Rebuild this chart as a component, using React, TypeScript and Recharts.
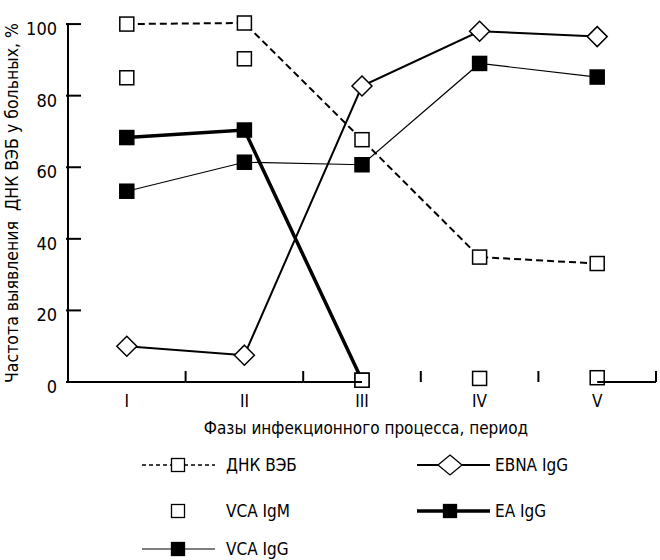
import { LineChart, Line, XAxis, YAxis } from "recharts";

const phases = ["I", "II", "III", "IV", "V"];
const dnaEbv = [100, 100.3, 67.7, 34.9, 33.1];
const vcaIgM = [85, 90.3, 0.5, 1, 1.2];
const vcaIgG = [53.3, 61.4, 60.7, 89, 85.2];
const ebnaIgG = [10, 7.5, 82.7, 98, 96.5];
const eaIgG = [68.3, 70.4, 0.5, null, null];
const yTicks = [0, 20, 40, 60, 80, 100];

const rows = phases.map((p, i) => ({
  phase: p,
  dna: dnaEbv[i],
  igm: vcaIgM[i],
  vca: vcaIgG[i],
  ebna: ebnaIgG[i],
  ea: eaIgG[i],
}));

const FONT = '"Liberation Sans Narrow", "DejaVu Sans Condensed", "Liberation Sans", sans-serif';
const PLOT_L = 68;
const PLOT_R = 656;
const BAND = (PLOT_R - PLOT_L) / phases.length;

type Marker = "open" | "filled" | "diamond";

const series: { key: string; name: string; width: number; dash?: string; marker: Marker; line: boolean }[] = [
  { key: "vca", name: "VCA IgG", width: 1.2, marker: "filled", line: true },
  { key: "ea", name: "EA IgG", width: 3.5, marker: "filled", line: true },
  { key: "ebna", name: "EBNA IgG", width: 2, marker: "diamond", line: true },
  { key: "dna", name: "ДНК ВЭБ", width: 2, dash: "7 4", marker: "open", line: true },
  { key: "igm", name: "VCA IgM", width: 0, marker: "open", line: false },
];

function markerShape(kind: Marker, cx: number, cy: number, key?: string) {
  if (kind === "diamond") {
    const r = 10;
    return (
      <path
        key={key}
        d={`M${cx},${cy - r}L${cx + r},${cy}L${cx},${cy + r}L${cx - r},${cy}Z`}
        fill="#fff"
        stroke="#000"
        strokeWidth={1.5}
      />
    );
  }
  const s = 14;
  return (
    <rect
      key={key}
      x={cx - s / 2}
      y={cy - s / 2}
      width={s}
      height={s}
      fill={kind === "filled" ? "#000" : "#fff"}
      stroke="#000"
      strokeWidth={1.5}
    />
  );
}

const makeDot = (kind: Marker) => (props: any) => {
  const { cx, cy, key, value } = props;
  if (cx == null || cy == null || value == null) return <g key={key} />;
  return markerShape(kind, cx, cy, key);
};

function PhaseTick(props: any) {
  const { x, y, payload, index } = props;
  const i = payload?.index ?? index;
  // the scanned axis line has a gap between III and V
  const segs: [number, number][] =
    i === 0 || i === 1
      ? [[x - BAND / 2, x + BAND / 2]]
      : i === 2
      ? [[x - BAND / 2, x]]
      : i === 4
      ? [[x, x + BAND / 2]]
      : [];
  return (
    <g>
      {segs.map(([a, b], k) => (
        <line key={k} x1={a} x2={b} y1={y} y2={y} stroke="#000" strokeWidth={2} />
      ))}
      <line x1={x + BAND / 2} x2={x + BAND / 2} y1={y} y2={y - 11} stroke="#000" strokeWidth={2} />
      <text x={x} y={y + 25} textAnchor="middle" fontFamily={FONT} fontSize={17} fill="#000">
        {payload.value}
      </text>
    </g>
  );
}

function ValueTick(props: any) {
  const { x, y, payload } = props;
  const axisX = x + 10;
  return (
    <g>
      <line x1={axisX - 2} x2={axisX + 13} y1={y} y2={y} stroke="#000" strokeWidth={2} />
      <text x={57} y={y + 11} textAnchor="end" fontFamily={FONT} fontSize={18} fill="#000">
        {payload.value}
      </text>
    </g>
  );
}

function LegendBox() {
  const byKey = (k: string) => series.find((s) => s.key === k)!;
  const ordL = ["dna", "igm", "vca"].map(byKey);
  const ordR = ["ebna", "ea"].map(byKey);
  const rowY = [25, 71, 109];
  const item = (s: (typeof series)[number], y: number, x0: number, x1: number, mx: number, tx: number) => (
    <g key={s.key}>
      {s.line && (
        <line
          x1={x0}
          x2={x1}
          y1={y}
          y2={y}
          stroke="#000"
          strokeWidth={s.key === "dna" ? 1.5 : s.width}
          strokeDasharray={s.dash ? "4 3" : undefined}
        />
      )}
      {s.marker === "diamond" ? (
        <path
          d={`M${mx},${y - 10}L${mx + 12},${y}L${mx},${y + 10}L${mx - 12},${y}Z`}
          fill="#fff"
          stroke="#000"
          strokeWidth={1.3}
        />
      ) : (
        <rect
          x={mx - 6.5}
          y={y - 6.5}
          width={13}
          height={13}
          fill={s.marker === "filled" ? "#000" : "#fff"}
          stroke="#000"
          strokeWidth={1.3}
        />
      )}
      <text x={tx} y={y + 6} fontFamily={FONT} fontSize={17} fill="#000">
        {s.name}
      </text>
    </g>
  );
  return (
    <svg width={660} height={120} style={{ display: "block" }}>
      {ordL.map((s, i) => item(s, rowY[i], 142, 215, 178, 226))}
      {ordR.map((s, i) => item(s, rowY[i], 417, 490, 450, 495))}
    </svg>
  );
}

export default function App() {
  return (
    <div style={{ width: 660, height: 560, background: "#fff", position: "relative", overflow: "hidden" }}>
      <style>{`body{margin:0}`}</style>
      <LineChart
        width={660}
        height={440}
        data={rows}
        margin={{ top: 23, right: 4, bottom: 28, left: 0 }}
      >
        <XAxis
          dataKey="phase"
          height={30}
          padding={{ left: BAND / 2, right: BAND / 2 }}
          axisLine={false}
          tickLine={false}
          tickSize={0}
          tickMargin={0}
          interval={0}
          tick={<PhaseTick />}
          label={{
            content: () => (
              <text x={366} y={434} textAnchor="middle" fontFamily={FONT} fontSize={17} fill="#000">
                Фазы инфекционного процесса, период
              </text>
            ),
          }}
        />
        <YAxis
          width={68}
          domain={[0, 100]}
          ticks={yTicks}
          interval={0}
          axisLine={{ stroke: "#000", strokeWidth: 2 }}
          tickLine={false}
          tickSize={0}
          tickMargin={10}
          tick={<ValueTick />}
          label={{
            content: () => (
              <text
                x={18}
                y={203}
                transform="rotate(-90 18 203)"
                textAnchor="middle"
                fontFamily={FONT}
                fontSize={17.5}
                fill="#000"
                style={{ whiteSpace: "pre" }}
              >
                {"Частота выявления  ДНК ВЭБ у больных, %"}
              </text>
            ),
          }}
        />
        {series.map((s) => (
          <Line
            key={s.key}
            dataKey={s.key}
            name={s.name}
            type="linear"
            stroke={s.line ? "#000" : "none"}
            strokeWidth={s.width}
            strokeDasharray={s.dash}
            dot={makeDot(s.marker)}
            activeDot={false}
            connectNulls={false}
            isAnimationActive={false}
          />
        ))}
      </LineChart>
      <div style={{ position: "absolute", top: 440, left: 0 }}>
        <LegendBox />
      </div>
    </div>
  );
}
